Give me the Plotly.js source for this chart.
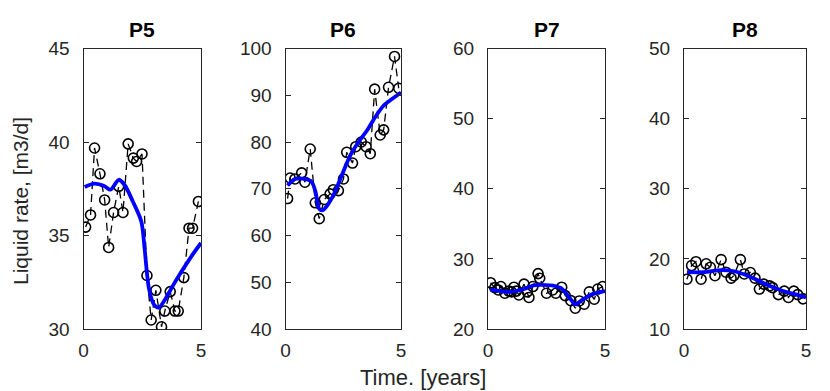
<!DOCTYPE html>
<html>
<head>
<meta charset="utf-8">
<script src="https://cdn.plot.ly/plotly-3.0.1.min.js"></script>
<style>
  html, body { margin: 0; padding: 0; background: #fff; }
  #plot { width: 830px; height: 391px; }
</style>
</head>
<body>
<div id="plot"></div>
<script>
// well names
var wells = ['P5', 'P6', 'P7', 'P8'];

// observed liquid rate (black dashed + circles)
var p5ObsX = [0.09, 0.3, 0.47, 0.7, 0.9, 1.07, 1.28, 1.5, 1.68, 1.9, 2.12, 2.26, 2.49, 2.7, 2.88, 3.08, 3.32, 3.46, 3.69, 3.89, 4.03, 4.27, 4.49, 4.64, 4.89];
var p5ObsY = [35.45, 36.1, 39.68, 38.3, 36.9, 34.36, 36.23, 37.63, 36.23, 39.9, 39.14, 38.96, 39.36, 32.86, 30.48, 32.07, 30.12, 30.96, 32.0, 30.96, 30.96, 32.75, 35.39, 35.39, 36.82];
var p6ObsX = [0.09, 0.2, 0.41, 0.7, 0.84, 1.07, 1.29, 1.46, 1.68, 1.93, 2.07, 2.29, 2.51, 2.65, 2.9, 3.04, 3.28, 3.49, 3.67, 3.86, 4.1, 4.25, 4.46, 4.72, 4.9];
var p6ObsY = [67.9, 72.3, 72.1, 73.4, 71.4, 78.5, 67.0, 63.6, 67.7, 68.9, 69.8, 69.6, 72.1, 77.8, 75.5, 79.0, 80.0, 79.0, 77.5, 91.3, 81.5, 82.6, 91.7, 98.3, 91.5];
var p7ObsX = [0.11, 0.29, 0.44, 0.55, 0.72, 0.89, 1.0, 1.11, 1.21, 1.32, 1.54, 1.68, 1.75, 1.92, 2.14, 2.21, 2.5, 2.76, 2.9, 3.15, 3.3, 3.54, 3.73, 3.9, 4.11, 4.33, 4.54, 4.69, 4.9];
var p7ObsY = [26.6, 25.9, 25.57, 26.05, 25.1, 25.4, 25.3, 25.96, 25.4, 24.85, 26.4, 25.3, 24.5, 26.05, 27.9, 27.24, 25.1, 25.57, 25.1, 25.96, 24.76, 24.04, 22.96, 24.0, 23.53, 25.3, 24.24, 25.7, 26.05];
var p8ObsX = [0.12, 0.31, 0.49, 0.7, 0.91, 1.08, 1.27, 1.52, 1.72, 1.93, 2.04, 2.31, 2.47, 2.72, 2.91, 3.09, 3.27, 3.51, 3.63, 3.87, 4.11, 4.28, 4.5, 4.66, 4.88];
var p8ObsY = [17.1, 19.05, 19.6, 17.1, 19.3, 18.8, 17.6, 19.9, 18.1, 17.25, 17.6, 19.9, 17.85, 18.05, 17.25, 15.7, 16.4, 16.15, 15.9, 14.9, 15.4, 14.5, 15.4, 14.9, 14.3];

// model response (blue)
var p5ModX = [0.05, 0.47, 0.9, 1.15, 1.5, 1.75, 2.1, 2.46, 2.6, 2.78, 3.0, 3.2, 3.46, 3.75, 4.17, 4.6, 5.0];
var p5ModY = [37.6, 37.77, 37.63, 37.45, 37.98, 37.7, 36.82, 35.75, 34.3, 32.2, 31.3, 31.14, 31.55, 32.2, 33.07, 33.9, 34.6];
var p6ModX = [0.09, 0.41, 0.84, 1.13, 1.3, 1.46, 1.61, 1.86, 2.14, 2.43, 2.8, 3.16, 3.52, 3.88, 4.25, 4.61, 5.0];
var p6ModY = [70.7, 72.1, 72.1, 71.5, 69.3, 65.7, 65.4, 66.8, 69.3, 72.8, 77.1, 80.0, 82.4, 85.3, 87.8, 89.2, 90.6];
var p7ModX = [0.1, 0.89, 1.54, 1.92, 2.3, 2.9, 3.17, 3.5, 3.73, 4.0, 4.4, 5.0];
var p7ModY = [25.6, 25.3, 25.7, 26.2, 26.3, 26.1, 25.7, 24.4, 23.5, 24.1, 24.9, 25.4];
var p8ModX = [0.12, 0.8, 1.5, 2.1, 2.6, 3.0, 3.4, 4.0, 4.5, 5.0];
var p8ModY = [18.1, 18.1, 18.4, 18.2, 17.6, 17.0, 16.3, 15.5, 15.0, 14.5];

// y ranges and ticks per well
var yRanges = [[30, 45], [40, 100], [20, 60], [10, 50]];
var yDtick = [5, 10, 10, 10];
var xTicks = [0, 5];

var obsX = [p5ObsX, p6ObsX, p7ObsX, p8ObsX];
var obsY = [p5ObsY, p6ObsY, p7ObsY, p8ObsY];
var modX = [p5ModX, p6ModX, p7ModX, p8ModX];
var modY = [p5ModY, p6ModY, p7ModY, p8ModY];

var W = 830, H = 391;
var boxes = [[83.5, 201], [285.5, 401], [488, 605], [684, 806]];
var yDom = [1 - 329 / H, 1 - 48.5 / H];

var inkColor = '#262626';
var fontFam = 'Liberation Sans, Arial, Helvetica, sans-serif';

var traces = [];
var layout = {
    width: W,
    height: H,
    margin: { l: 0, r: 0, t: 0, b: 0 },
    paper_bgcolor: '#ffffff',
    plot_bgcolor: '#ffffff',
    showlegend: false,
    font: { family: fontFam, color: inkColor },
    annotations: []
};

for (var i = 0; i < wells.length; i++) {
    var n = i === 0 ? '' : String(i + 1);
    var xa = 'x' + n, ya = 'y' + n;

    traces.push({
        x: obsX[i], y: obsY[i],
        xaxis: xa, yaxis: ya,
        type: 'scatter', mode: 'lines+markers',
        line: { color: '#000000', width: 1.3, dash: '8px,5px' },
        marker: { symbol: 'circle-open', size: 10, color: '#000000', line: { width: 1.6, color: '#000000' } }
    });
    traces.push({
        x: modX[i], y: modY[i],
        xaxis: xa, yaxis: ya,
        type: 'scatter', mode: 'lines',
        line: { color: '#0000ff', width: 3.8, shape: 'spline', smoothing: 0.8 }
    });

    var axCommon = {
        showline: true, mirror: 'ticks', linecolor: inkColor, linewidth: 1,
        ticks: 'inside', ticklen: 5, tickcolor: inkColor, tickwidth: 1,
        showgrid: false, zeroline: false,
        tickfont: { size: 19, color: inkColor, family: fontFam }
    };

    layout['xaxis' + n] = Object.assign({}, axCommon, {
        domain: [boxes[i][0] / W, boxes[i][1] / W],
        anchor: ya,
        range: [0, 5],
        tickmode: 'array', tickvals: xTicks, ticktext: xTicks.map(String),
        ticklabelstandoff: 4
    });
    layout['yaxis' + n] = Object.assign({}, axCommon, {
        domain: yDom,
        anchor: xa,
        range: yRanges[i],
        dtick: yDtick[i], tick0: 0,
        ticklabelstandoff: 9
    });

    layout.annotations.push({
        text: '<b>' + wells[i] + '</b>',
        xref: 'paper', yref: 'paper',
        x: (boxes[i][0] + boxes[i][1]) / 2 / W,
        y: 1 - 29 / H,
        xanchor: 'center', yanchor: 'middle',
        showarrow: false,
        font: { size: 21, color: '#000000', family: fontFam }
    });
}

layout.annotations.push({
    text: 'Time. [years]',
    xref: 'paper', yref: 'paper',
    x: 423 / W, y: 1 - 377 / H,
    xanchor: 'center', yanchor: 'middle',
    showarrow: false,
    font: { size: 22, color: inkColor, family: fontFam }
});
layout.annotations.push({
    text: 'Liquid rate, [m3/d]',
    xref: 'paper', yref: 'paper',
    x: 20 / W, y: 1 - 201 / H,
    xanchor: 'center', yanchor: 'middle',
    textangle: -90,
    showarrow: false,
    font: { size: 21, color: inkColor, family: fontFam }
});

var plotElement = document.getElementById('plot');
if (plotElement) {
    Plotly.newPlot('plot', traces, layout, { displayModeBar: false, staticPlot: true });
} else {
    console.error("No DOM element with id 'plot' exists on the page.");
}
</script>
</body>
</html>
